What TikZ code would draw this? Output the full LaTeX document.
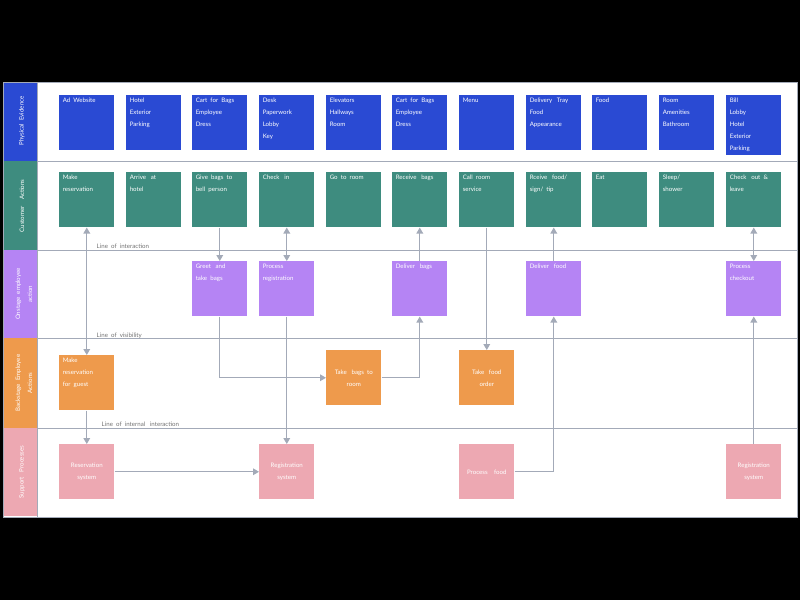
\documentclass[tikz,border=0pt]{standalone}
\usepackage{fontspec}
\setmainfont{Lato}
\usetikzlibrary{arrows.meta}
\definecolor{cb}{HTML}{2A4AD3}
\definecolor{ct}{HTML}{3E8C7F}
\definecolor{cp}{HTML}{B584F4}
\definecolor{co}{HTML}{EE9A4C}
\definecolor{cr}{HTML}{EDA8B2}
\definecolor{ln}{HTML}{A3AAB8}
\begin{document}
\begin{tikzpicture}[x=0.75pt,y=-0.75pt,
  every node/.style={font=\fontsize{4.6}{9}\selectfont, text=white},
  bx/.style={draw=none, fill=#1, anchor=north west, minimum width=41.25pt, minimum height=41.25pt, inner sep=0pt},
  conn/.style={draw=ln, line width=0.9pt, -{Triangle[length=4.5pt,width=5pt]}},
  dconn/.style={draw=ln, line width=0.9pt, {Triangle[length=4.5pt,width=5pt]}-{Triangle[length=4.5pt,width=5pt]}},
  lane/.style={fill=#1, draw=ln, line width=0.6pt},
  lbl/.style={text=black!55, font=\fontsize{4.6}{6}\selectfont, anchor=base west}]
\newcommand{\tl}[1]{\parbox[c][41pt][t]{36pt}{\vspace{2pt}#1}}
\newcommand{\ct}[1]{\parbox[c][41pt][c]{36pt}{\centering #1}}
\useasboundingbox (0,0) rectangle (800,600);
\fill[black] (0,0) rectangle (800,600);
\fill[white] (3,82) rectangle (797,517);
% lanes
\foreach \a/\b in {82/161,161/250,250/338,338/428,428/517}{\draw[ln,line width=0.6pt] (3,\a) rectangle (797,\b);}
\fill[cb] (4,83) rectangle (37,161);
\fill[ct] (4,161) rectangle (37,250);
\fill[cp] (4,250) rectangle (37,338);
\fill[co] (4,338) rectangle (37,428);
\fill[cr] (4,428) rectangle (37,516);
\draw[ln,line width=0.6pt] (37,82) -- (37,517);
\node[rotate=90] (h1) at (22,121) {Physical\ \ Evidence};
\node[rotate=90] (h2) at (22,206) {Customer\ \ \ \ Actions};
\node[rotate=90,align=center] (h3) at (24,294) {Onstage\ \ employee\\ action};
\node[rotate=90,align=center] (h4) at (24,383) {Backstage\ \ Employee\\ Actions};
\node[rotate=90] (h5) at (22,472) {Support\ \ \ Processes};
% row 1
\node[bx=cb] (p1) at (59,95) {\tl{Ad\ \ Website}};
\node[bx=cb] (p2) at (126,95) {\tl{Hotel\\Exterior\\Parking}};
\node[bx=cb] (p3) at (192,95) {\tl{Cart\ \ for\ \ Bags\\Employee\\Dress}};
\node[bx=cb] (p4) at (259,95) {\tl{Desk\\Paperwork\\Lobby\\Key}};
\node[bx=cb] (p5) at (326,95) {\tl{Elevators\\Hallways\\Room}};
\node[bx=cb] (p6) at (392,95) {\tl{Cart\ \ for\ \ Bags\\Employee\\Dress}};
\node[bx=cb] (p7) at (459,95) {\tl{Menu}};
\node[bx=cb] (p8) at (526,95) {\tl{Delivery\ \ \ Tray\\Food\\Appearance}};
\node[bx=cb] (p9) at (592,95) {\tl{Food}};
\node[bx=cb] (p10) at (659,95) {\tl{Room\\Amenities\\Bathroom}};
\node[bx=cb,minimum height=45pt] (p11) at (726,95) {\parbox[c][45pt][t]{36pt}{\vspace{2pt}Bill\\Lobby\\Hotel\\Exterior\\Parking}};
% row 2
\node[bx=ct] (c1) at (59,172) {\tl{Make\\reservation}};
\node[bx=ct] (c2) at (126,172) {\tl{Arrive\ \ \ at\\hotel}};
\node[bx=ct] (c3) at (192,172) {\tl{Give\ \ bags\ \ to\\bell\ \ person}};
\node[bx=ct] (c4) at (259,172) {\tl{Check\ \ \ in}};
\node[bx=ct] (c5) at (326,172) {\tl{Go\ \ to\ \ room}};
\node[bx=ct] (c6) at (392,172) {\tl{Receive\ \ \ bags}};
\node[bx=ct] (c7) at (459,172) {\tl{Call\ \ room\\service}};
\node[bx=ct] (c8) at (526,172) {\tl{Rceive\ \ \ food/\\sign/\ \ tip}};
\node[bx=ct] (c9) at (592,172) {\tl{Eat}};
\node[bx=ct] (c10) at (659,172) {\tl{Sleep/\\shower}};
\node[bx=ct] (c11) at (726,172) {\tl{Check\ \ \ out\ \ \&\\leave}};
% row 3
\node[bx=cp] (o3) at (192,261) {\tl{Greet\ \ \ and\\take\ \ bags}};
\node[bx=cp] (o4) at (259,261) {\tl{Process\\registration}};
\node[bx=cp] (o6) at (392,261) {\tl{Deliver\ \ \ bags}};
\node[bx=cp] (o8) at (526,261) {\tl{Deliver\ \ \ food}};
\node[bx=cp] (o11) at (726,261) {\tl{Process\\checkout}};
% row 4
\node[bx=co] (b1) at (59,355) {\tl{Make\\reservation\\for\ \ guest}};
\node[bx=co] (b5) at (326,350) {\ct{Take\ \ \ bags\ \ to\\room}};
\node[bx=co] (b7) at (459,350) {\ct{Take\ \ \ food\\order}};
% row 5
\node[bx=cr] (s1) at (59,444) {\ct{Reservation\\system}};
\node[bx=cr] (s4) at (259,444) {\ct{Registration\\system}};
\node[bx=cr] (s7) at (459,444) {\ct{Process\ \ \ \ food}};
\node[bx=cr] (s11) at (726,444) {\ct{Registration\\system}};
% line labels
\node[lbl] (l1) at (92,248) {Line\ \ of\ \ interaction};
\node[lbl] (l2) at (92,337) {Line\ \ of\ \ visibility};
\node[lbl] (l3) at (97,426) {Line\ \ of\ \ internal\ \ \ interaction};
% connectors
\draw[dconn] (c1.south) -- (b1.north);
\draw[conn] (b1.south) -- (s1.north);
\draw[conn] (c3.south) -- (o3.north);
\draw[conn] (o3.south) |- (b5.west);
\draw[conn] (b5.east) -| (o6.south);
\draw[conn] (o6.north) -- (c6.south);
\draw[dconn] (c4.south) -- (o4.north);
\draw[conn] (o4.south) -- (s4.north);
\draw[conn] (s1.east) -- (s4.west);
\draw[conn] (c7.south) -- (b7.north);
\draw[conn] (s7.east) -| (o8.south);
\draw[conn] (o8.north) -- (c8.south);
\draw[conn] (s11.north) -- (o11.south);
\draw[dconn] (o11.north) -- (c11.south);
\end{tikzpicture}
\end{document}
